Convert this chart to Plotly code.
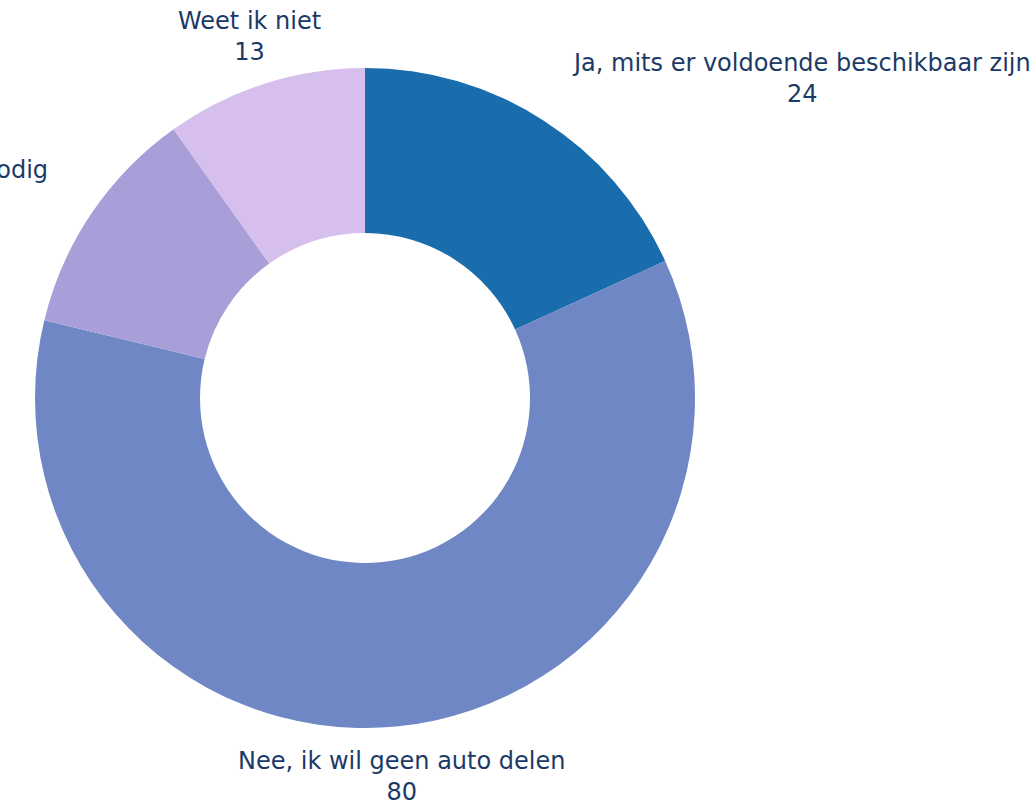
import math
import plotly.graph_objects as go

# Survey answers (clockwise from 12 o'clock)
labels = [
    "Ja, mits er voldoende beschikbaar zijn",
    "Nee, ik wil geen auto delen",
    "Nee, ik heb geen auto nodig",
    "Weet ik niet",
]
values = [24, 80, 15, 13]
colors = ["#196dad", "#7087c5", "#a89fd8", "#d6bfec"]

W, H = 1034, 811
cx, cy, r_out = 365, 398, 330      # donut centre and outer radius, px
label_r = 380                      # distance of label anchors from centre, px
text_color = "#1b3a66"
font_family = "DejaVu Sans, sans-serif"

fig = go.Figure(
    go.Pie(
        labels=labels,
        values=values,
        marker=dict(colors=colors, line=dict(width=0)),
        hole=0.5,
        sort=False,
        direction="clockwise",
        rotation=0,
        textinfo="none",
        hoverinfo="label+value",
        showlegend=False,
        domain=dict(
            x=[(cx - r_out) / W, (cx + r_out) / W],
            y=[1 - (cy + r_out) / H, 1 - (cy - r_out) / H],
        ),
    )
)

# Outside labels placed at each slice's mid-angle
total = sum(values)
start = 0.0
annotations = []
for lab, val in zip(labels, values):
    span = val / total * 360.0
    mid = math.radians(start + span / 2)
    start += span
    s, c = math.sin(mid), math.cos(mid)
    px = cx + label_r * s
    py = cy - label_r * c
    if s > 0.4:
        xanchor = "left"
    elif s < -0.4:
        xanchor = "right"
    else:
        xanchor = "center"
    annotations.append(
        dict(
            x=px / W,
            y=1 - py / H,
            xref="paper",
            yref="paper",
            xanchor=xanchor,
            yanchor="middle",
            align="center",
            showarrow=False,
            text=f"{lab}<br>{val}",
            font=dict(family=font_family, size=24, color=text_color),
        )
    )

fig.update_layout(
    width=W,
    height=H,
    margin=dict(l=0, r=0, t=0, b=0),
    paper_bgcolor="white",
    plot_bgcolor="white",
    annotations=annotations,
)

fig.write_html("out.html")
